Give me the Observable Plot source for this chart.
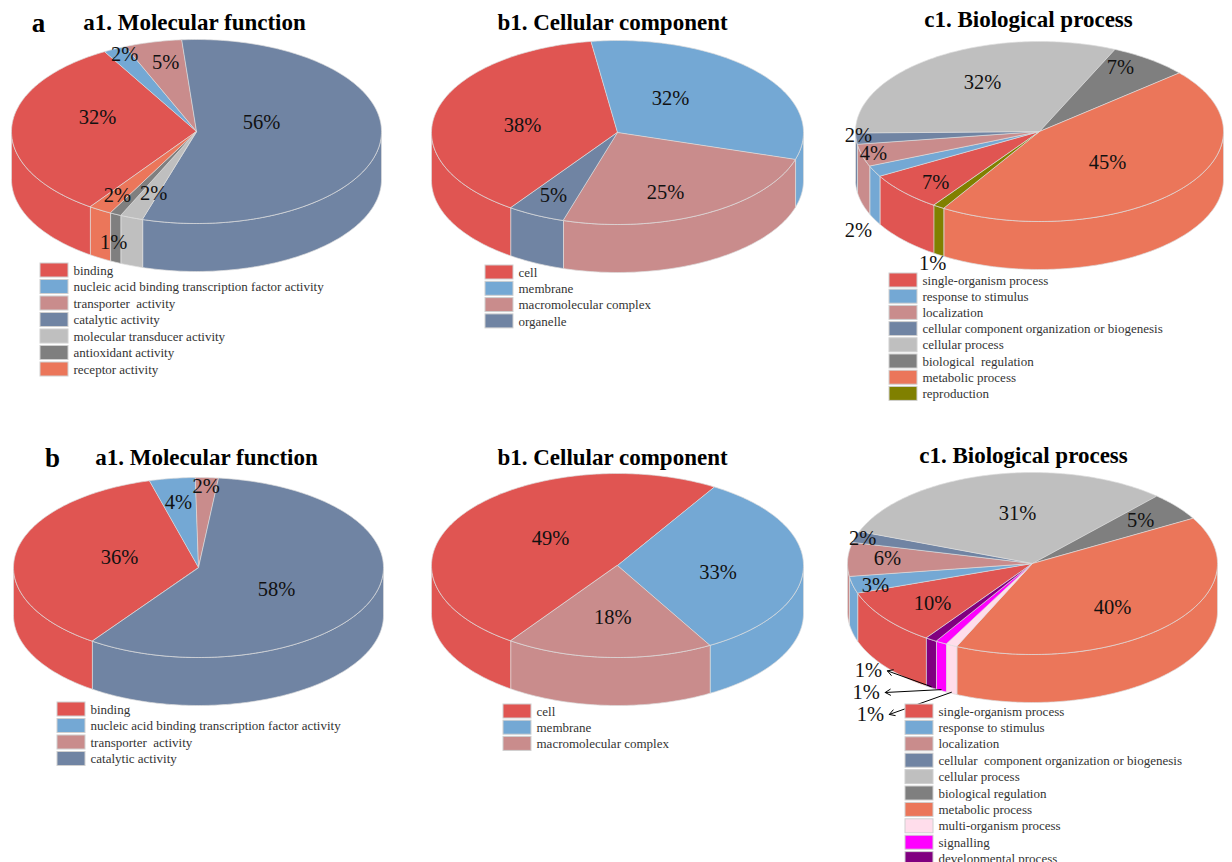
<!DOCTYPE html>
<html><head><meta charset="utf-8">
<script src="https://cdn.jsdelivr.net/npm/d3@7"></script>
<script src="https://cdn.jsdelivr.net/npm/@observablehq/plot@0.6"></script>
<style>body{margin:0;background:#fff} #chart svg{display:block}</style>
</head><body><div id="chart"></div>
<script>
// ---------------- DATA ----------------
const mfCategoriesA = ["binding","nucleic acid binding transcription factor activity","transporter  activity","catalytic activity","molecular transducer activity","antioxidant activity","receptor activity"];
const mfValuesA = [32, 2, 5, 56, 2, 1, 2];
const ccCategoriesA = ["cell","membrane","macromolecular complex","organelle"];
const ccValuesA = [38, 32, 25, 5];
const bpCategoriesA = ["single-organism process","response to stimulus","localization","cellular component organization or biogenesis","cellular process","biological  regulation","metabolic process","reproduction"];
const bpValuesA = [7, 2, 4, 2, 32, 7, 45, 1];
const mfCategoriesB = ["binding","nucleic acid binding transcription factor activity","transporter  activity","catalytic activity"];
const mfValuesB = [36, 4, 2, 58];
const ccCategoriesB = ["cell","membrane","macromolecular complex"];
const ccValuesB = [49, 33, 18];
const bpCategoriesB = ["single-organism process","response to stimulus","localization","cellular  component organization or biogenesis","cellular process","biological regulation","metabolic process","multi-organism process","signalling","developmental process"];
const bpValuesB = [10, 3, 6, 2, 31, 5, 40, 1, 1, 1];
const panelTitles = ["a1. Molecular function","b1. Cellular component","c1. Biological process","a1. Molecular function","b1. Cellular component","c1. Biological process"];
const rowLetters = ["a","b"];

// ---------------- STYLE / LAYOUT ----------------
const base = ["#E05552","#74A8D4","#C98C8C","#7084A3","#BFBFBF","#7F7F7F","#EB765A"];
const palMF = base;
const palBPA = [...base, "#808000"];
const palBPB = [...base, "#FFDDEB", "#FF00FF", "#800080"];
const startAngle = 215;
const depth = 48;
const serif = "Liberation Serif, Times New Roman, serif";

const panels = [
  {cats: mfCategoriesA, vals: mfValuesA, pal: palMF, cx:196, cy:131, rx:185, ry:92, tx:194, ty:22, lx:40, ly:270, ls:16.5,
   lab:[[0.535,-12],[0.88,-4],[0.71,-5.5],[0.353,-12.5],[0.66,5],[1.02,26.6],[0.82,0]]},
  {cats: ccCategoriesA, vals: ccValuesA, pal: base, cx:617, cy:132, rx:186, ry:92, tx:612, ty:22, lx:485, ly:272, ls:16.3,
   lab:[[0.525,4],[0.375,-11.5],[0.55,15],[0.785,-2]]},
  {cats: bpCategoriesA, vals: bpValuesA, pal: palBPA, cx:1039, cy:131, rx:184, ry:90, tx:1028, ty:19, lx:889, ly:280, ls:16.2,
   lab:[[0.765,5],[1.097,55],[0.936,0],[0.987,-3],[0.563,-7],[0.735,-11],[0.485,3],[1.06,52]]},
  {cats: mfCategoriesB, vals: mfValuesB, pal: palMF, cx:198, cy:567, rx:185, ry:90, tx:206, ty:457, lx:57, ly:709, ls:16.5,
   lab:[[0.433,-3],[0.76,3],[0.9,0],[0.45,8]]},
  {cats: ccCategoriesB, vals: ccValuesB, pal: base, cx:617, cy:565, rx:186, ry:92, tx:612, ty:457, lx:503, ly:711, ls:16.2,
   lab:[[0.43,-5],[0.54,6],[0.57,0]]},
  {cats: bpCategoriesB, vals: bpValuesB, pal: palBPB, cx:1032, cy:563, rx:185, ry:91, tx:1023, ty:455, lx:905, ly:711, ls:16.4,
   lab:[[0.677,3],[0.873,3],[0.785,-2],[0.96,0.5],[0.345,-19.5],[0.75,0],[0.584,8],[2.0,-12.6],[1.82,-15],[1.62,-16]],
   arrows:[7,8,9]}
];
const letterPos = [[38,23],[52,458]];

// ---------------- GEOMETRY ----------------
function pt(p, deg, f, dy = 0) {
  const t = deg * Math.PI / 180;
  return {x: p.cx + p.rx * f * Math.sin(t), y: p.cy - p.ry * f * Math.cos(t) + dy};
}
function arc(p, a0, a1, dy) {
  const n = Math.max(2, Math.ceil(Math.abs(a1 - a0) / 1));
  return d3.range(n + 1).map(i => pt(p, a0 + (a1 - a0) * i / n, 1, dy));
}
const topPts = [], sidePts = [], labels = [], legendRects = [], legendTexts = [], titles = [], arrows = [];
panels.forEach((p, pi) => {
  const total = d3.sum(p.vals);
  let a = startAngle;
  p.vals.forEach((v, i) => {
    const a0 = a, a1 = a + v / total * 360; a = a1;
    const color = p.pal[i];
    const id = `t${pi}-${i}`;
    [{x: p.cx, y: p.cy}, ...arc(p, a0, a1, 0)].forEach(q => topPts.push({...q, id, color}));
    for (let k = -1; k <= 2; k++) {
      const s0 = Math.max(a0, 90 + 360 * k), s1 = Math.min(a1, 270 + 360 * k);
      if (s1 > s0) {
        const sid = `s${pi}-${i}-${k}`;
        [...arc(p, s0, s1, 0), ...arc(p, s1, s0, depth)].forEach(q => sidePts.push({...q, id: sid, color}));
      }
    }
    const mid = (a0 + a1) / 2;
    const [f, dy] = p.lab[i];
    const L = pt(p, mid, f, dy);
    labels.push({...L, text: `${v}%`});
    if (p.arrows && p.arrows.includes(i)) {
      const s = pt(p, mid, 1, depth - 1);
      arrows.push({x1: s.x, y1: s.y, x2: L.x + 19, y2: L.y});
    }
    legendRects.push({x1: p.lx, x2: p.lx + 28, y1: p.ly + i * p.ls - 7, y2: p.ly + i * p.ls + 7, color});
    legendTexts.push({x: p.lx + 33, y: p.ly + i * p.ls, text: p.cats[i]});
  });
  titles.push({x: p.tx, y: p.ty, text: panelTitles[pi]});
});
const letters = rowLetters.map((t, i) => ({x: letterPos[i][0], y: letterPos[i][1], text: t}));

const chart = Plot.plot({
  width: 1232, height: 862, margin: 0,
  x: {domain: [0, 1232], range: [0, 1232], axis: null},
  y: {domain: [0, 862], range: [0, 862], axis: null},
  style: {background: "#fff"},
  marks: [
    Plot.line(sidePts, {x: "x", y: "y", z: "id", fill: "color", stroke: "#dcdcdc", strokeWidth: 0.7, curve: "linear-closed"}),
    Plot.line(topPts, {x: "x", y: "y", z: "id", fill: "color", stroke: "#dcdcdc", strokeWidth: 0.7, curve: "linear-closed"}),
    Plot.text(labels, {x: "x", y: "y", text: "text", fontSize: 20.5, fontFamily: serif, fill: "#111"}),
    Plot.arrow(arrows, {x1: "x1", y1: "y1", x2: "x2", y2: "y2", stroke: "#000", strokeWidth: 1, headLength: 9}),
    Plot.rect(legendRects, {x1: "x1", x2: "x2", y1: "y1", y2: "y2", fill: "color", stroke: "#d0d0d0", strokeWidth: 1}),
    Plot.text(legendTexts, {x: "x", y: "y", text: "text", textAnchor: "start", fontSize: 13, fontFamily: serif, fill: "#333"}),
    Plot.text(titles, {x: "x", y: "y", text: "text", fontSize: 23, fontWeight: "bold", fontFamily: serif, fill: "#000"}),
    Plot.text(letters, {x: "x", y: "y", text: "text", fontSize: 27, fontWeight: "bold", fontFamily: serif, fill: "#000"})
  ]
});
document.getElementById("chart").appendChild(chart);
</script>
</body></html>
